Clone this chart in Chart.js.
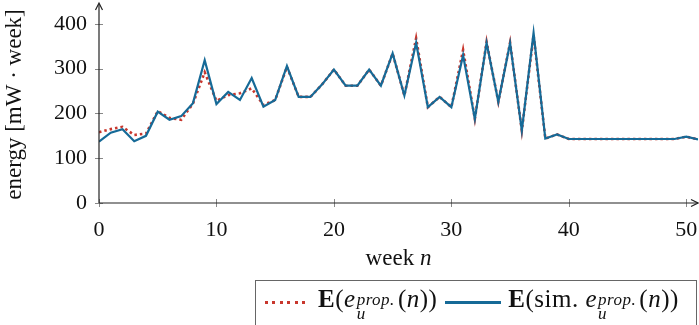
<!DOCTYPE html>
<html>
<head>
<meta charset="utf-8">
<script src="https://cdn.jsdelivr.net/npm/chart.js@4"></script>
<style>
  html, body { margin: 0; padding: 0; background: #fff; }
  #wrap { position: relative; width: 699px; height: 325px; overflow: hidden; }
  #xtitle {
    position: absolute; text-align: center; white-space: nowrap;
    font-family: 'Liberation Serif', serif; font-size: 23px; line-height: 28px; color: #111;
  }
  #legend {
    position: absolute; left: 255px; top: 280px; width: 442px; height: 48px;
    border: 1px solid #666; box-sizing: border-box;
    font-family: 'Liberation Serif', serif; font-size: 25px; color: #111; letter-spacing: 0.5px;
    display: flex; align-items: center; padding-left: 9px; white-space: nowrap;
  }
  .legrow { display: flex; align-items: center; margin-top: -3px; }
  .swatch { display: inline-block; width: 44px; height: 3px; margin-right: 9px; }
  .dots { background: repeating-linear-gradient(90deg, #c8372d 0 3px, transparent 3px 7.5px); }
  .solid { background: #166a97; margin-left: 8px; width: 56px; margin-right: 7px; }
  .ss { display: inline-flex; flex-direction: column; font-size: 17px; line-height: 14px;
        font-style: italic; vertical-align: 2px; margin-left: 1px; margin-right: 3px; }
</style>
</head>
<body>
<div id="wrap">
  <canvas id="energy_chart" width="699" height="325"></canvas>
  <div id="xtitle">week <i>n</i></div>
  <div id="legend">
    <div class="legrow">
      <span class="swatch dots"></span>
      <span><b>E</b>(<i>e</i><span class="ss"><span>prop.</span><span>u</span></span>(<i>n</i>))</span>
      <span class="swatch solid"></span>
      <span><b>E</b>(sim. <i>e</i><span class="ss"><span>prop.</span><span>u</span></span>(<i>n</i>))</span>
    </div>
  </div>
</div>
<script>
Chart.defaults.font.family = "'Liberation Serif', serif";
Chart.defaults.color = '#111';

const weeks = [
  0, 1, 2, 3, 4, 5, 6, 7, 8, 9,
  10, 11, 12, 13, 14, 15, 16, 17, 18, 19,
  20, 21, 22, 23, 24, 25, 26, 27, 28, 29,
  30, 31, 32, 33, 34, 35, 36, 37, 38, 39,
  40, 41, 42, 43, 44, 45, 46, 47, 48, 49,
  50, 51,
];
// E(e_u^prop.(n))  -- red dotted
const energy_prop = [
  158, 165, 170, 152, 155, 205, 190, 186, 222, 292,
  228, 241, 245, 256, 219, 230, 304, 237, 237, 265,
  298, 262, 262, 298, 262, 334, 240, 368, 214, 237,
  214, 342, 188, 360, 226, 358, 162, 375, 144, 153,
  143, 143, 143, 143, 143, 143, 143, 143, 143, 143,
  148, 142,
];
// E(sim. e_u^prop.(n))  -- blue solid
const energy_sim = [
  137, 157, 165, 138, 150, 204, 186, 194, 223, 319,
  221, 248, 230, 279, 215, 230, 306, 237, 237, 265,
  298, 262, 262, 298, 262, 334, 240, 358, 214, 237,
  214, 330, 188, 358, 226, 357, 162, 380, 144, 153,
  143, 143, 143, 143, 143, 143, 143, 143, 143, 143,
  148, 142,
];
const x_ticks = [0, 10, 20, 30, 40, 50];
const y_ticks = [0, 100, 200, 300, 400];

const toPoints = (vals) => vals.map((v, i) => ({ x: weeks[i], y: v }));

// pgfplots-like axes: ticks crossing the axis line + arrow heads
const axisDeco = {
  id: 'axisDeco',
  afterDraw(chart) {
    const { ctx, chartArea: a, scales } = chart;
    ctx.save();
    ctx.strokeStyle = '#888';
    ctx.lineWidth = 1;
    x_ticks.forEach((t) => {
      const px = Math.round(scales.x.getPixelForValue(t)) + 0.5;
      ctx.beginPath(); ctx.moveTo(px, a.bottom - 4); ctx.lineTo(px, a.bottom + 4); ctx.stroke();
    });
    y_ticks.forEach((t) => {
      const py = Math.round(scales.y.getPixelForValue(t)) + 0.5;
      ctx.beginPath(); ctx.moveTo(a.left - 4, py); ctx.lineTo(a.left + 4, py); ctx.stroke();
    });
    ctx.strokeStyle = '#222';
    ctx.lineWidth = 1.2;
    const yx = scales.x.getPixelForValue(0);
    ctx.beginPath(); ctx.moveTo(yx, a.bottom); ctx.lineTo(yx, a.top - 2); ctx.stroke();
    ctx.beginPath(); ctx.moveTo(yx - 3.5, a.top + 4); ctx.lineTo(yx, a.top - 3); ctx.lineTo(yx + 3.5, a.top + 4); ctx.stroke();
    const xy = scales.y.getPixelForValue(0);
    ctx.beginPath(); ctx.moveTo(a.left, xy); ctx.lineTo(a.right, xy); ctx.stroke();
    ctx.beginPath(); ctx.moveTo(a.right - 7, xy - 3.5); ctx.lineTo(a.right, xy); ctx.lineTo(a.right - 7, xy + 3.5); ctx.stroke();
    ctx.restore();
  },
};

const ctx_energy = document.getElementById('energy_chart');
const chart_energy = new Chart(ctx_energy, {
  type: 'line',
  data: {
    datasets: [
      {
        label: 'E(sim. e_u^prop.(n))',
        data: toPoints(energy_sim),
        borderColor: '#166a97',
        borderWidth: 2.2,
        pointRadius: 0,
        tension: 0,
      },
      {
        label: 'E(e_u^prop.(n))',
        data: toPoints(energy_prop),
        borderColor: '#c8372d',
        borderWidth: 2.6,
        borderDash: [2.5, 3],
        pointRadius: 0,
        tension: 0,
      },
    ],
  },
  options: {
    responsive: false,
    animation: false,
    layout: { padding: { top: 6, right: 1, left: 0, bottom: 0 } },
    plugins: { legend: { display: false }, tooltip: { enabled: false } },
    scales: {
      x: {
        type: 'linear',
        min: 0,
        max: 51,
        afterBuildTicks: (s) => { s.ticks = x_ticks.map((v) => ({ value: v })); },
        afterFit: (s) => { s.height = 122; s.paddingLeft = 0; s.paddingRight = 0; },
        grid: { display: false },
        border: { display: false },
        ticks: { font: { size: 22 }, padding: 6, maxRotation: 0 },
      },
      y: {
        min: 0,
        max: 440,
        afterBuildTicks: (s) => { s.ticks = y_ticks.map((v) => ({ value: v })); },
        afterFit: (s) => { s.width = 99; s.paddingTop = 0; s.paddingBottom = 0; },
        grid: { display: false },
        border: { display: false },
        ticks: { font: { size: 22 }, padding: 4 },
        title: { display: true, text: 'energy [mW · week]', font: { size: 23 }, padding: { top: 1, bottom: 0 } },
      },
    },
  },
  plugins: [axisDeco],
});

// x axis title as HTML so the "n" can be italic
const area = chart_energy.chartArea;
const xt = document.getElementById('xtitle');
xt.style.left = area.left + 'px';
xt.style.width = (area.right - area.left) + 'px';
xt.style.top = (area.bottom + 41) + 'px';
</script>
</body>
</html>
